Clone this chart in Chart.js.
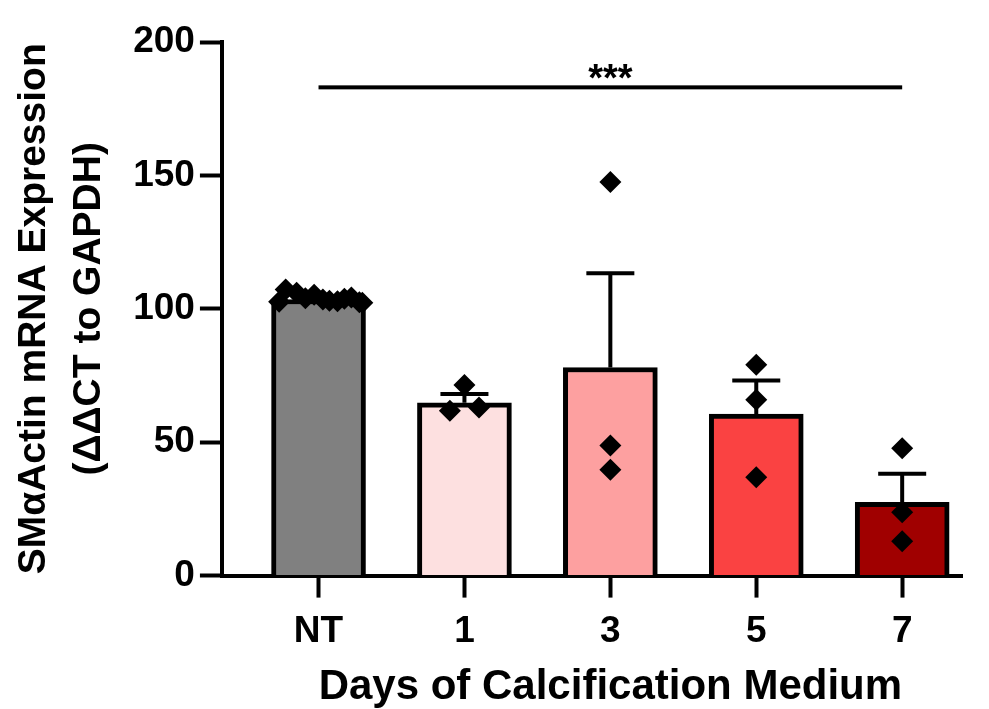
<!DOCTYPE html>
<html>
<head>
<meta charset="utf-8">
<script src="https://cdn.jsdelivr.net/npm/chart.js@4.4.0/dist/chart.umd.min.js"></script>
<style>
  html, body { margin: 0; padding: 0; background: #fff; }
  #wrap { width: 989px; height: 709px; }
</style>
</head>
<body>
<div id="wrap"><canvas id="exprChart"></canvas></div>
<script>
const groups = ['NT', '1', '3', '5', '7'];
const means = [103.5, 64.8, 78.0, 60.5, 27.5];
const sems = [0.6, 3.3, 35.3, 12.6, 10.7];
const barColors = ['#808080', '#fde0e0', '#fda0a0', '#fa4242', '#a00000'];
const yTicks = [0, 50, 100, 150, 200];

// replicates per group; jitter is horizontal spread in category units
const ntPoints = [102.6, 107.2, 106.0, 104.0, 105.3, 103.5, 103.0, 102.8, 103.8, 104.2, 102.5, 102.3];
const ntJitter = [-0.27, -0.225, -0.15, -0.09, -0.03, 0.03, 0.075, 0.13, 0.177, 0.225, 0.28, 0.30];
const day1Points = [71.4, 61.8, 63.0];
const day1Jitter = [0, -0.1, 0.1];
const day3Points = [147.5, 48.8, 39.7];
const day5Points = [79.0, 65.9, 36.9];
const day7Points = [47.7, 23.7, 12.9];

// NT vs day 7 comparison
const sigFrom = 0;
const sigTo = 4;
const sigLevel = 183;
const sigLabel = '***';

const xTitle = 'Days of Calcification Medium';

const FONT = '"Liberation Sans", Arial, Helvetica, sans-serif';

function toPoints(groupIdx, vals, jitter) {
    return vals.map((v, i) => ({ x: groupIdx + (jitter ? jitter[i] : 0), y: v }));
}

const scatterData = [].concat(
    toPoints(0, ntPoints, ntJitter),
    toPoints(1, day1Points, day1Jitter),
    toPoints(2, day3Points),
    toPoints(3, day5Points),
    toPoints(4, day7Points)
);

const extras = {
    id: 'extras',
    beforeDatasetDraw(chart, args) {
        if (args.index !== 1) return;
        const { ctx, scales: { x, y } } = chart;
        ctx.save();
        ctx.strokeStyle = '#000';
        ctx.lineWidth = 4;
        ctx.lineCap = 'butt';
        means.forEach((m, i) => {
            const px = x.getPixelForValue(i);
            const top = y.getPixelForValue(m + sems[i]);
            const base = y.getPixelForValue(m);
            ctx.beginPath();
            ctx.moveTo(px, base);
            ctx.lineTo(px, top);
            ctx.moveTo(px - 24, top);
            ctx.lineTo(px + 24, top);
            ctx.stroke();
        });
        ctx.restore();
    },
    afterDatasetsDraw(chart) {
        const { ctx, chartArea, scales: { x, y } } = chart;
        const x1 = x.getPixelForValue(sigFrom);
        const x2 = x.getPixelForValue(sigTo);
        const py = y.getPixelForValue(sigLevel);
        ctx.save();
        ctx.fillStyle = '#000';
        ctx.fillRect(x1, py - 2, x2 - x1, 4);
        ctx.font = 'bold 38px ' + FONT;
        ctx.textAlign = 'center';
        ctx.textBaseline = 'alphabetic';
        ctx.fillText(sigLabel, (x1 + x2) / 2, py + 4);

        // x title centred under the groups
        const first = x.getPixelForValue(0);
        const last = x.getPixelForValue(groups.length - 1);
        ctx.font = 'bold 42px ' + FONT;
        ctx.fillText(xTitle, (first + last) / 2, chartArea.bottom + 123);
        ctx.restore();
    }
};

const tickFont = { family: FONT, size: 37, weight: 'bold' };
const titleFont = { family: FONT, size: 39, weight: 'bold', lineHeight: 1.4 };

new Chart(document.getElementById('exprChart').getContext('2d'), {
    type: 'bar',
    data: {
        datasets: [
            {
                type: 'bar',
                data: means.map((m, i) => ({ x: i, y: m })),
                backgroundColor: barColors,
                borderColor: '#000',
                borderWidth: 5,
                barThickness: 94,
                order: 1
            },
            {
                type: 'scatter',
                data: scatterData,
                pointStyle: 'rectRot',
                pointRadius: 11,
                backgroundColor: '#000',
                borderColor: '#000',
                borderWidth: 0,
                order: 0
            }
        ]
    },
    options: {
        responsive: true,
        maintainAspectRatio: false,
        animation: false,
        layout: { padding: { left: 7, right: 27, top: 42, bottom: 43 } },
        plugins: {
            legend: { display: false },
            tooltip: { enabled: false }
        },
        scales: {
            x: {
                type: 'linear',
                offset: false,
                min: -0.662,
                max: 4.41,
                afterBuildTicks: axis => { axis.ticks = groups.map((g, i) => ({ value: i })); },
                ticks: {
                    callback: v => groups[v],
                    font: tickFont,
                    color: '#000',
                    padding: 12,
                    maxRotation: 0,
                    autoSkip: false
                },
                grid: { offset: false, drawOnChartArea: false, drawTicks: true, tickLength: 22, tickWidth: 4, tickColor: '#000' },
                border: { display: true, color: '#000', width: 4 }
            },
            y: {
                min: 0,
                max: 200,
                afterBuildTicks: axis => { axis.ticks = yTicks.map(v => ({ value: v })); },
                ticks: { font: tickFont, color: '#000', padding: 5 },
                grid: { drawOnChartArea: false, drawTicks: true, tickLength: 22, tickWidth: 4, tickColor: '#000' },
                border: { display: true, color: '#000', width: 4 },
                title: {
                    display: true,
                    text: ['SMαActin mRNA Expression', '(ΔΔCT to GAPDH)'],
                    font: titleFont,
                    color: '#000',
                    padding: { top: 0, bottom: 12 }
                }
            }
        }
    },
    plugins: [extras]
});
</script>
</body>
</html>
